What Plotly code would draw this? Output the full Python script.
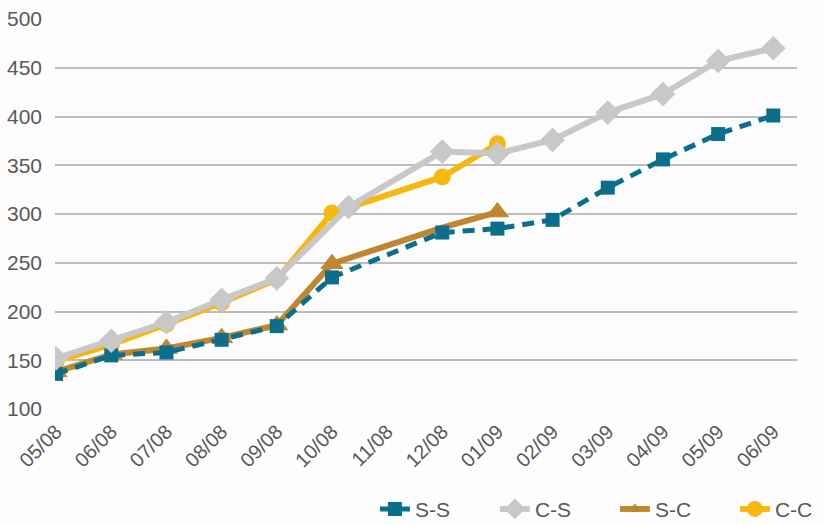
import plotly.graph_objects as go

# Month labels along the category axis
months = ["05/08", "06/08", "07/08", "08/08", "09/08", "10/08", "11/08",
          "12/08", "01/09", "02/09", "03/09", "04/09", "05/09", "06/09"]

# Series values per month (None = no observation that month)
ss_vals = [136, 155, 158, 171, 185, 235, None, 281, 285, 294, 327, 356, 382, 401]
sc_vals = [138, 156, 162, 173, 186, 249, None, 286, 302, None, None, None, None, None]
cc_vals = [149, 166, 187, 209, 233, 301, None, 338, 372, None, None, None, None, None]

# C-S was sampled mid-October rather than at the month start
cs_pos = [0, 1, 2, 3, 4, 5.3, 7, 8, 9, 10, 11, 12, 13]
cs_vals = [152, 170, 189, 212, 234, 307, 364, 362, 376, 404, 423, 457, 470]

# S-C has an unmarked reading in 12/08
sc_marker_sizes = [19, 19, 19, 19, 19, 19, 0, 0, 19, 0, 0, 0, 0, 0]

month_pos = list(range(len(months)))

TEAL = "#0b6e8a"
GREY = "#c8c8c8"
BROWN = "#bf8730"
GOLD = "#f5b80c"
TEXT = "#595959"
FONT = "Liberation Sans, Arial, sans-serif"

fig = go.Figure()

fig.add_trace(go.Scatter(
    x=month_pos, y=sc_vals, name="S-C", legendrank=3,
    mode="lines+markers", connectgaps=True,
    line=dict(color=BROWN, width=6),
    marker=dict(symbol="triangle-up", size=sc_marker_sizes, color=BROWN,
                opacity=1, line=dict(width=1, color=BROWN)),
))
fig.add_trace(go.Scatter(
    x=month_pos, y=cc_vals, name="C-C", legendrank=4,
    mode="lines+markers", connectgaps=True,
    line=dict(color=GOLD, width=6),
    marker=dict(symbol="circle", size=17, color=GOLD),
))
fig.add_trace(go.Scatter(
    x=month_pos, y=ss_vals, name="S-S", legendrank=1,
    mode="lines+markers", connectgaps=True,
    line=dict(color=TEAL, width=5, dash="12px,8px"),
    marker=dict(symbol="square", size=14, color=TEAL),
))
fig.add_trace(go.Scatter(
    x=cs_pos, y=cs_vals, name="C-S", legendrank=2,
    mode="lines+markers",
    line=dict(color=GREY, width=6),
    marker=dict(symbol="diamond", size=19, color=GREY),
))

fig.update_layout(
    width=824, height=525,
    margin=dict(l=55, r=27, t=19, b=116, autoexpand=False),
    paper_bgcolor="#fdfdfd",
    plot_bgcolor="#fcfcfc",
    font=dict(family=FONT, size=20, color=TEXT),
    showlegend=True,
    legend=dict(
        orientation="h",
        xref="container", x=0.455, xanchor="left",
        yref="container", y=0.03, yanchor="middle",
        font=dict(family=FONT, size=21, color=TEXT),
        entrywidth=75, entrywidthmode="pixels",
        traceorder="normal", bgcolor="rgba(0,0,0,0)",
    ),
)

fig.update_xaxes(
    range=[-0.02, 13.43], automargin=False,
    tickmode="array", tickvals=month_pos, ticktext=months,
    tickangle=-45, showgrid=False, zeroline=False, showline=False,
    ticks="", ticklabelstandoff=6,
    tickfont=dict(family=FONT, size=20, color=TEXT),
)
fig.update_yaxes(
    range=[100, 500], dtick=50, tick0=100, automargin=False,
    showgrid=True, gridcolor="#bdbdbd", gridwidth=2,
    zeroline=False, showline=False, ticks="", ticklabelstandoff=12,
    tickfont=dict(family=FONT, size=21, color=TEXT),
)

fig.write_html("out.html")
